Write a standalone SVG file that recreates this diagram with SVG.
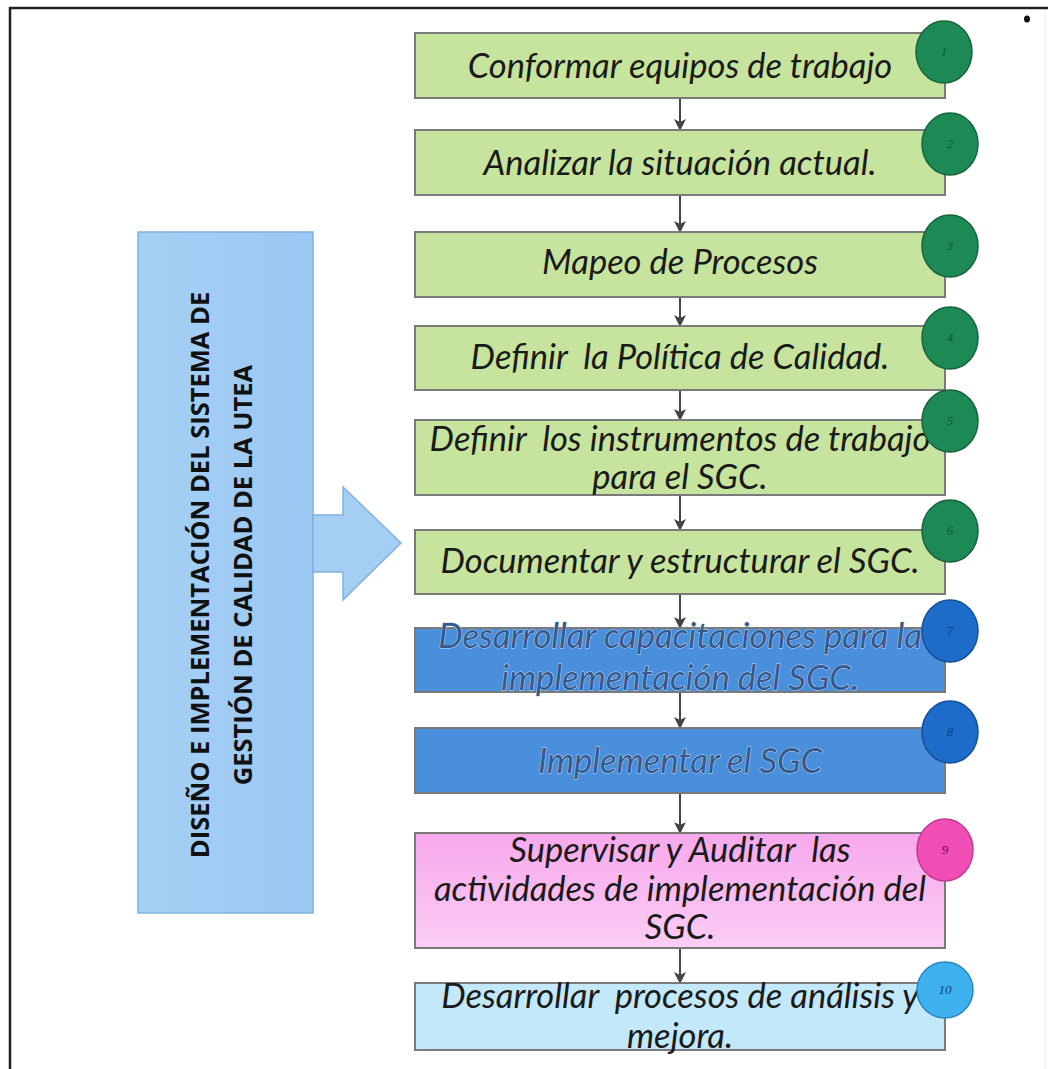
<svg xmlns="http://www.w3.org/2000/svg" width="1048" height="1069" viewBox="0 0 1048 1069">
<defs>
<marker id="ah" viewBox="0 0 12 12" refX="11" refY="6" markerWidth="13" markerHeight="12" orient="auto" markerUnits="userSpaceOnUse">
<path d="M0,0 L12,6 L0,12 L3,6 z" fill="#444"/>
</marker>
<linearGradient id="pinkg" x1="0" y1="0" x2="0" y2="1">
<stop offset="0" stop-color="#f7a8ec"/>
<stop offset="1" stop-color="#fbcdf4"/>
</linearGradient>
<linearGradient id="leftg" x1="0" y1="0" x2="1" y2="0">
<stop offset="0" stop-color="#a6d0f5"/>
<stop offset="1" stop-color="#9ac8f2"/>
</linearGradient>
</defs>
<style>
.box{stroke:#7a7a7a;stroke-width:2}
.green{fill:#c6e49d}
.blue{fill:#4a8fdc}
.pink{fill:url(#pinkg)}
.lblue{fill:#c2e8fa}
.t{font-family:Lato,"Open Sans","Liberation Sans",sans-serif;font-style:italic;font-size:34.5px;fill:#1a1a1a;text-anchor:middle;white-space:pre}
.tb{fill:#35598c;stroke:#c9dcf3;stroke-width:0.9;paint-order:stroke}
.c{stroke-width:1.5}
.cg{fill:#1d8a55;stroke:#17643f}
.cb{fill:#1d6cc9;stroke:#15509a}
.cp{fill:#f04db5;stroke:#c23a90}
.cl{fill:#3fb1ee;stroke:#2a86c0}
.n{font-family:"Liberation Serif",serif;font-style:italic;font-size:13px;text-anchor:middle}
.conn line{stroke:#444;stroke-width:2;marker-end:url(#ah)}
.title{font-family:"Open Sans","Liberation Sans",sans-serif;font-weight:bold;font-size:25.5px;fill:#111;text-anchor:middle}
</style>
<rect width="1048" height="1069" fill="#ffffff"/>
<path d="M10,1069 L10,8 L1048,8" fill="none" stroke="#222" stroke-width="2.5"/>
<line x1="1045" y1="10" x2="1045" y2="1069" stroke="#eeeeee" stroke-width="1"/>
<ellipse cx="1027" cy="19" rx="3" ry="3.5" fill="#111"/>

<g id="left-block">
<rect x="138" y="232" width="175" height="681" fill="url(#leftg)" stroke="#7fb2e0" stroke-width="1.5"/>
<text class="title" transform="translate(209,575) rotate(-90)">DISEÑO E IMPLEMENTACIÓN DEL SISTEMA DE</text>
<text class="title" transform="translate(252,575) rotate(-90)">GESTIÓN DE CALIDAD DE LA UTEA</text>
</g>
<g id="block-arrow">
<path d="M313,515 L343,515 L343,487 L401,543 L343,600 L343,572 L313,572 Z" fill="#a4cef4" stroke="#7fb2e0" stroke-width="1.5"/>
</g>

<g class="conn" id="connectors">
<line x1="680" y1="98" x2="680" y2="130"/>
<line x1="680" y1="195" x2="680" y2="232"/>
<line x1="680" y1="297" x2="680" y2="326"/>
<line x1="680" y1="390" x2="680" y2="420"/>
<line x1="680" y1="495" x2="680" y2="530"/>
<line x1="680" y1="594" x2="680" y2="628"/>
<line x1="680" y1="692" x2="680" y2="728"/>
<line x1="680" y1="793" x2="680" y2="833"/>
<line x1="680" y1="948" x2="680" y2="983"/>
</g>

<g id="step1">
<rect class="box green" x="415" y="33" width="530" height="65"/>
<text class="t" x="680" y="78">Conformar equipos de trabajo</text>
<ellipse class="c cg" cx="944" cy="52" rx="28" ry="31"/>
<text class="n" x="944" y="56" fill="#0f5a35">1</text>
</g>
<g id="step2">
<rect class="box green" x="415" y="130" width="530" height="65"/>
<text class="t" x="680" y="175">Analizar la situación actual.</text>
<ellipse class="c cg" cx="950" cy="144" rx="28" ry="31"/>
<text class="n" x="950" y="148" fill="#0f5a35">2</text>
</g>
<g id="step3">
<rect class="box green" x="415" y="232" width="530" height="65"/>
<text class="t" x="680" y="274">Mapeo de Procesos</text>
<ellipse class="c cg" cx="950" cy="246" rx="28" ry="31"/>
<text class="n" x="950" y="250" fill="#0f5a35">3</text>
</g>
<g id="step4">
<rect class="box green" x="415" y="326" width="530" height="64"/>
<text class="t" x="680" y="369">Definir  la Política de Calidad.</text>
<ellipse class="c cg" cx="950" cy="338" rx="28" ry="31"/>
<text class="n" x="950" y="342" fill="#0f5a35">4</text>
</g>
<g id="step5">
<rect class="box green" x="415" y="420" width="530" height="75"/>
<text class="t" x="680" y="451">Definir  los instrumentos de trabajo</text>
<text class="t" x="680" y="489">para el SGC.</text>
<ellipse class="c cg" cx="950" cy="421" rx="28" ry="31"/>
<text class="n" x="950" y="425" fill="#0f5a35">5</text>
</g>
<g id="step6">
<rect class="box green" x="415" y="530" width="530" height="64"/>
<text class="t" x="680" y="573">Documentar y estructurar el SGC.</text>
<ellipse class="c cg" cx="950" cy="531" rx="28" ry="31"/>
<text class="n" x="950" y="535" fill="#0f5a35">6</text>
</g>
<g id="step7">
<rect class="box blue" x="415" y="628" width="530" height="64" stroke="#5a7fa8" stroke-width="2"/>
<text class="t tb" x="680" y="648">Desarrollar capacitaciones para la</text>
<text class="t tb" x="680" y="690">implementación del SGC.</text>
<ellipse class="c cb" cx="950" cy="631" rx="28" ry="31"/>
<text class="n" x="950" y="635" fill="#0d3f80">7</text>
</g>
<g id="step8">
<rect class="box blue" x="415" y="728" width="530" height="65" stroke="#5a7fa8" stroke-width="2"/>
<text class="t tb" x="680" y="773">Implementar el SGC</text>
<ellipse class="c cb" cx="950" cy="732" rx="28" ry="31"/>
<text class="n" x="950" y="736" fill="#0d3f80">8</text>
</g>
<g id="step9">
<rect class="box pink" x="415" y="833" width="530" height="115"/>
<text class="t" x="680" y="862">Supervisar y Auditar  las</text>
<text class="t" x="680" y="901">actividades de implementación del</text>
<text class="t" x="680" y="939">SGC.</text>
<ellipse class="c cp" cx="945" cy="850" rx="28" ry="31"/>
<text class="n" x="945" y="854" fill="#6a1050">9</text>
</g>
<g id="step10">
<rect class="box lblue" x="415" y="983" width="530" height="67"/>
<text class="t" x="680" y="1008">Desarrollar  procesos de análisis y</text>
<text class="t" x="680" y="1048">mejora.</text>
<ellipse class="c cl" cx="945" cy="990" rx="28" ry="28"/>
<text class="n" x="945" y="994" fill="#0d3f70">10</text>
</g>
</svg>
